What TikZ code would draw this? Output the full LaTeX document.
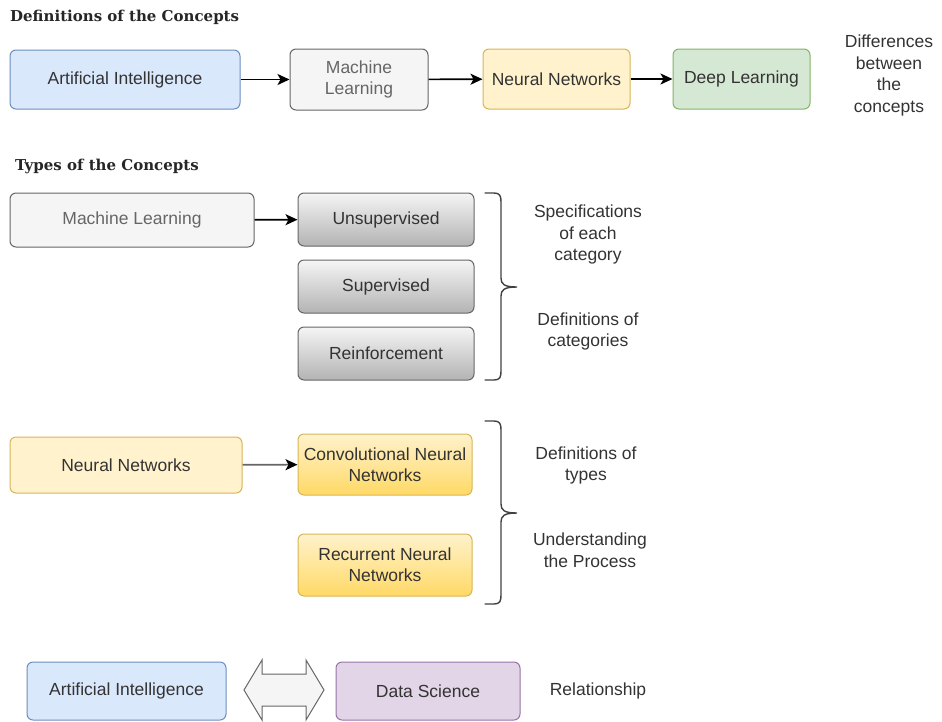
\documentclass[tikz,border=0pt]{standalone}
\usepackage{fontspec}
\setmainfont{Liberation Sans}
\newfontfamily\titlefont{DejaVu Serif}
\usetikzlibrary{arrows.meta}
\definecolor{blueF}{HTML}{DAE8FC}\definecolor{blueS}{HTML}{6C8EBF}
\definecolor{grayF}{HTML}{F5F5F5}\definecolor{grayS}{HTML}{666666}
\definecolor{grayB}{HTML}{B3B3B3}
\definecolor{yelF}{HTML}{FFF2CC}\definecolor{yelS}{HTML}{D6B656}
\definecolor{yelB}{HTML}{FFD966}
\definecolor{grnF}{HTML}{D5E8D4}\definecolor{grnS}{HTML}{82B366}
\definecolor{purF}{HTML}{E1D5E7}\definecolor{purS}{HTML}{9673A6}
\definecolor{txt}{HTML}{333333}
\tikzset{
  box/.style={draw, rounded corners=6pt, line width=1pt, align=center, text=txt,
    font=\fontsize{17.5}{21}\selectfont, inner sep=1pt},
  bluebox/.style={box, fill=blueF, draw=blueS},
  graybox/.style={box, fill=grayF, draw=grayS, text=grayS},
  gradgray/.style={box, draw=grayS, top color=grayF, bottom color=grayB},
  yelbox/.style={box, fill=yelF, draw=yelS},
  gradyel/.style={box, draw=yelS, top color=yelF, bottom color=yelB},
  grnbox/.style={box, fill=grnF, draw=grnS},
  purbox/.style={box, fill=purF, draw=purS},
  note/.style={align=center, text=txt, font=\fontsize{17.5}{21.5}\selectfont, inner sep=0pt},
  ttl/.style={anchor=west, inner sep=0pt, font=\titlefont\bfseries\fontsize{15}{18}\selectfont, text=black!85},
  conn/.style={-{Stealth[length=12pt,width=11pt,inset=3pt]}, line width=1.6pt, black},
  brace/.style={line width=1.4pt, draw=black!75, line cap=round}
}
\begin{document}
\begin{tikzpicture}[x=1pt,y=-1pt]
\useasboundingbox (0,0) rectangle (942,721);
% Row 1
\node[ttl] (t1) at (10,17) {Definitions of the Concepts};
\node[bluebox, minimum width=230pt, minimum height=59pt] (ai1) at (125,79.5) {Artificial Intelligence};
\node[graybox, minimum width=138pt, minimum height=61pt] (ml1) at (359,79.5) {Machine\\Learning};
\node[yelbox, minimum width=147pt, minimum height=60pt] (nn1) at (556.5,79) {Neural Networks};
\node[grnbox, minimum width=137pt, minimum height=60pt] (dl1) at (741.5,79) {Deep Learning};
\node[note] (diff) at (889,75.5) {Differences\\between\\the\\concepts};
\draw[conn] (ai1) -- (ml1);
\draw[conn] (ml1) -- (nn1);
\draw[conn] (nn1) -- (dl1);
% Row 2
\node[ttl] (t2) at (15,166) {Types of the Concepts};
\node[graybox, minimum width=244pt, minimum height=54pt] (ml2) at (132,220) {Machine Learning};
\node[gradgray, minimum width=176pt, minimum height=53pt] (uns) at (386,219.5) {Unsupervised};
\node[gradgray, minimum width=176pt, minimum height=53pt] (sup) at (386,286.5) {Supervised};
\node[gradgray, minimum width=176pt, minimum height=53pt] (rei) at (386,353.5) {Reinforcement};
\draw[conn] (ml2) -- (uns);
\draw[brace] (485,193) -- (494,193) .. controls (500,193) and (501,196) .. (501,202) -- (501,278)
  .. controls (501,284) and (504,287) .. (517,287)
  .. controls (504,287) and (501,290) .. (501,296) -- (501,371)
  .. controls (501,377) and (500,380) .. (494,380) -- (485,380);
\node[note] (spec) at (588,234.5) {Specifications\\of each\\category};
\node[note] (defc) at (588,331.5) {Definitions of\\categories};
% Row 3
\node[yelbox, minimum width=232pt, minimum height=56pt] (nn2) at (126,465) {Neural Networks};
\node[gradyel, minimum width=174pt, minimum height=61pt] (cnn) at (385,464.5) {Convolutional Neural\\Networks};
\node[gradyel, minimum width=174pt, minimum height=62pt] (rnn) at (385,565) {Recurrent Neural\\Networks};
\draw[conn, draw=black!60, -{Stealth[length=12pt,width=11pt,inset=3pt,black]}] (nn2) -- (cnn);
\draw[brace] (485,421) -- (494,421) .. controls (500,421) and (501,424) .. (501,430) -- (501,504)
  .. controls (501,510) and (504,513) .. (517,513)
  .. controls (504,513) and (501,516) .. (501,522) -- (501,595)
  .. controls (501,601) and (500,604) .. (494,604) -- (485,604);
\node[note] (deft) at (586,465.5) {Definitions of\\types};
\node[note] (und) at (590,550) {Understanding\\the Process};
% Row 4
\node[bluebox, minimum width=199pt, minimum height=58pt] (ai3) at (126.5,691) {Artificial Intelligence};
\node[purbox, minimum width=184pt, minimum height=58pt] (ds) at (428,691) {Data Science};
\draw[line width=1pt, draw=grayS, fill=grayF, line join=miter]
  (244,690) -- (262,660) -- (262,674) -- (306,674) -- (306,660) -- (324,690)
  -- (306,720) -- (306,706) -- (262,706) -- (262,720) -- cycle;
\node[note] (rel) at (598,691) {Relationship};
\end{tikzpicture}
\end{document}
